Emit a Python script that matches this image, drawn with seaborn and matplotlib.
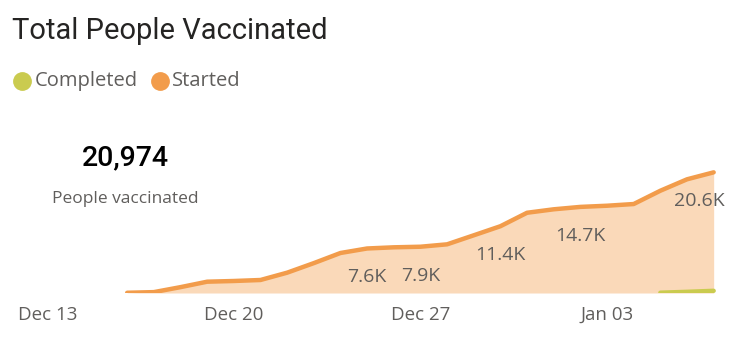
import matplotlib
matplotlib.use("Agg")
import matplotlib.pyplot as plt
from matplotlib.lines import Line2D
import seaborn as sns
import pandas as pd

# ---- data ----
dates = ["2020-12-16", "2020-12-17", "2020-12-18", "2020-12-19", "2020-12-20",
         "2020-12-21", "2020-12-22", "2020-12-23", "2020-12-24", "2020-12-25",
         "2020-12-26", "2020-12-27", "2020-12-28", "2020-12-29", "2020-12-30",
         "2020-12-31", "2021-01-01", "2021-01-02", "2021-01-03", "2021-01-04",
         "2021-01-05", "2021-01-06", "2021-01-07"]
started = [40, 150, 1000, 1930, 2050, 2220, 3470, 5100, 6830, 7600,
           7800, 7900, 8310, 9850, 11400, 13700, 14290, 14700, 14900, 15190,
           17460, 19410, 20600]
completed_dates = ["2021-01-05", "2021-01-06", "2021-01-07"]
completed = [50, 200, 374]
label_dates = ["2020-12-25", "2020-12-27", "2020-12-30", "2021-01-02", "2021-01-07"]
label_texts = ["7.6K", "7.9K", "11.4K", "14.7K", "20.6K"]
tick_dates = ["2020-12-13", "2020-12-20", "2020-12-27", "2021-01-03"]
tick_labels = ["Dec 13", "Dec 20", "Dec 27", "Jan 03"]
total_text = "20,974"
total_caption = "People vaccinated"
title = "Total People Vaccinated"
legend_names = ["Completed", "Started"]

ORANGE = "#F29C4B"
FILL = "#FAD9B9"
GREEN = "#CACB4F"
GRAY = "#605E5C"

sns.set_theme(style="white")
plt.rcParams["font.family"] = ["Open Sans", "DejaVu Sans"]

df_s = pd.DataFrame({"date": pd.to_datetime(dates), "value": started})
df_c = pd.DataFrame({"date": pd.to_datetime(completed_dates), "value": completed})

W, H = 750, 339
fig = plt.figure(figsize=(W / 100, H / 100), dpi=100)
ax_left, ax_right, ax_top, ax_bottom = 30, 722, 100, 293
ax = fig.add_axes([ax_left / W, 1 - ax_bottom / H, (ax_right - ax_left) / W, (ax_bottom - ax_top) / H])

ax.fill_between(df_s["date"], 0, df_s["value"], color=FILL, linewidth=0, zorder=1)
sns.lineplot(data=df_s, x="date", y="value", ax=ax, color=ORANGE, linewidth=3.2,
             solid_capstyle="round", solid_joinstyle="round", zorder=3)
sns.lineplot(data=df_c, x="date", y="value", ax=ax, color=GREEN, linewidth=3.2,
             solid_capstyle="round", zorder=4)

lookup = dict(zip(df_s["date"], df_s["value"]))
for d, t in zip(label_dates, label_texts):
    dt = pd.Timestamp(d)
    dx = -14 if t == label_texts[-1] else 0
    ax.annotate(t, (dt, lookup[dt]), xytext=(dx, -29), textcoords="offset pixels",
                ha="center", va="center", fontsize=14, color=GRAY, zorder=5)

x0 = pd.Timestamp("2020-12-13") - pd.Timedelta(hours=15.5)
x1 = pd.Timestamp("2021-01-07") + pd.Timedelta(hours=7.5)
ax.set_xlim(x0, x1)
ax.set_ylim(0, 32950)
ax.set_xticks(pd.to_datetime(tick_dates))
ax.set_xticklabels(tick_labels, color=GRAY, fontsize=13.5)
ax.tick_params(axis="x", length=0, pad=9.5)
ax.set_yticks([])
ax.set_xlabel("")
ax.set_ylabel("")
for s in ax.spines.values():
    s.set_visible(False)

fig.text(12 / W, 1 - 31 / H, title, fontsize=21, color="#252423", va="center", ha="left",
         family=["Roboto", "DejaVu Sans"])

# legend drawn manually: circle + label
leg_y = 1 - 81 / H
leg_items = [(22, 35, GREEN), (160, 172, ORANGE)]
for name, (cx, tx, col) in zip(legend_names, leg_items):
    fig.add_artist(Line2D([cx / W], [leg_y], marker="o", markersize=12.5, linestyle="",
                          color=col, transform=fig.transFigure))
    fig.text(tx / W, leg_y, name, fontsize=14.5, color=GRAY, ha="left", va="center")

fig.text(125 / W, 1 - 158 / H, total_text, fontsize=20.5, color="#000000", ha="center", va="center",
         family=["Roboto", "DejaVu Sans"], fontweight="medium")
fig.text(125 / W, 1 - 199 / H, total_caption, fontsize=12.5, color=GRAY, ha="center", va="center")

fig.savefig("out.png", dpi=100)
